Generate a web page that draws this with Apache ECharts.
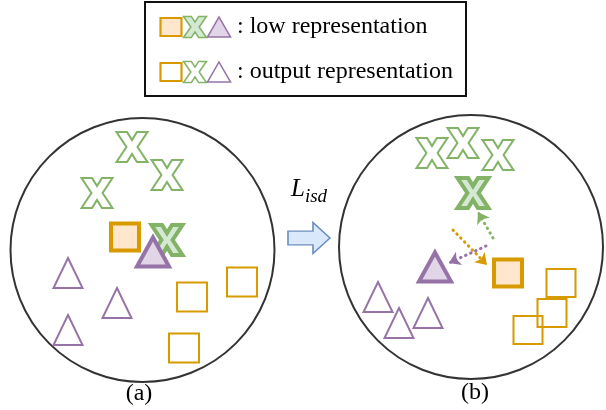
<!DOCTYPE html>
<html><head><meta charset="utf-8">
<script src="https://cdn.jsdelivr.net/npm/echarts@6/dist/echarts.min.js"></script>
<style>html,body{margin:0;padding:0;background:#fff}#c{width:606px;height:410px}</style>
</head><body><div id="c"></div>
<script>
// ---- data (diagram positions in the 606x410 canvas units) ----
const circleCenters = [[142.5, 250], [471, 247]];
const panelLabels = ['(a)', '(b)'];
const panelLabelPos = [[139, 394], [475, 393]];
const legendTexts = [': low representation', ': output representation'];
const legendRowsY = [27, 72];

// panel (a)
const aOutX = [[132, 147], [167, 175], [97, 193]];
const aLowX = [[167, 240]];
const aLowSq = [[125, 237]];
const aLowTri = [[153, 252]];
const aOutTri = [[68, 273], [117, 303], [68, 330]];
const aOutSq = [[192, 297], [242, 282], [184, 348]];
// panel (b)
const bOutX = [[432, 153], [463, 143], [498, 155]];
const bLowX = [[473, 193]];
const bLowSq = [[508, 273]];
const bLowTri = [[435, 267]];
const bOutTri = [[378, 297], [399, 323], [428, 313]];
const bOutSq = [[561, 283], [552, 313], [528, 330]];
// dotted pull arrows in (b): [from, to]
const greenArrow = [[[493, 238], [478, 212]]];
const orangeArrow = [[[453, 230], [487, 265]]];
const purpleArrow = [[[486, 246], [449, 263]]];
// transition arrow
const blockArrow = [[309, 238]];

const ORANGE = '#d79b00', ORANGE_F = '#ffe6cc';
const GREEN = '#82b366', GREEN_F = '#d5e8d4';
const PURPLE = '#9673a6', PURPLE_F = '#e1d5e7';
const X_PATH = 'path://M0,0 L34,0 L50,27 L66,0 L100,0 L68,50 L100,100 L66,100 L50,73 L34,100 L0,100 L32,50 Z';
const ARROW_PATH = 'path://M0,10 L25,10 L25,0 L42,18 L25,36 L25,26 L0,26 Z';

function sc(data, symbol, size, fill, stroke, bw, z) {
  return {type: 'scatter', data: data, symbol: symbol, symbolSize: size, symbolKeepAspect: true,
    itemStyle: {color: fill, borderColor: stroke, borderWidth: bw, opacity: 1}, z: z || 2,
    silent: true, animation: false};
}
function ln(data, color) {
  return {type: 'lines', coordinateSystem: 'cartesian2d', data: data.map(c => ({coords: c})),
    symbol: ['none', 'arrow'], symbolSize: 11,
    lineStyle: {color: color, width: 3, type: [0.5, 5], cap: 'round', opacity: 1}, z: 3, silent: true, animation: false};
}

const series = [
  {type: 'scatter', data: circleCenters, symbol: 'circle', symbolSize: 264,
   itemStyle: {color: 'transparent', borderColor: '#000', borderWidth: 2}, z: 1, silent: true, animation: false},
  sc(blockArrow, ARROW_PATH, [42, 36], '#dae8fc', '#6c8ebf', 1.5),
  // legend icons
  sc([[171, legendRowsY[0]]], 'rect', [21, 18], ORANGE_F, ORANGE, 2),
  sc([[195, legendRowsY[0]]], X_PATH, [23, 21], GREEN_F, GREEN, 1.5),
  sc([[219, legendRowsY[0]]], 'triangle', [23, 20], PURPLE_F, PURPLE, 1.5),
  sc([[171, legendRowsY[1]]], 'rect', [21, 18], '#fff', ORANGE, 2),
  sc([[195, legendRowsY[1]]], X_PATH, [23, 21], '#fff', GREEN, 1.5),
  sc([[219, legendRowsY[1]]], 'triangle', [23, 20], '#fff', PURPLE, 1.5),
  // panel a
  sc(aOutX, X_PATH, [31, 30], '#fff', GREEN, 2),
  sc(aOutTri, 'triangle', [29, 30], 'transparent', PURPLE, 2),
  sc(aOutSq, 'rect', [30, 29], 'transparent', ORANGE, 2),
  sc(aLowX, X_PATH, [31, 30], GREEN_F, GREEN, 4, 3),
  sc(aLowSq, 'rect', [28, 27], ORANGE_F, ORANGE, 4, 3),
  sc(aLowTri, 'triangle', [32, 29], PURPLE_F, PURPLE, 4, 4),
  // panel b
  sc(bOutX, X_PATH, [31, 30], '#fff', GREEN, 2),
  sc(bOutTri, 'triangle', [29, 30], 'transparent', PURPLE, 2),
  sc(bOutSq, 'rect', [29, 28], 'transparent', ORANGE, 2),
  sc(bLowX, X_PATH, [31, 30], GREEN_F, GREEN, 4, 3),
  sc(bLowSq, 'rect', [28, 27], ORANGE_F, ORANGE, 4, 3),
  sc(bLowTri, 'triangle', [32, 29], PURPLE_F, PURPLE, 4, 4),
  ln(greenArrow, GREEN), ln(orangeArrow, ORANGE), ln(purpleArrow, PURPLE)
];

const SERIF = '"Liberation Serif", "DejaVu Serif", serif';
const graphic = [
  {type: 'rect', shape: {x: 145, y: 2, width: 321, height: 94}, style: {fill: '#fff', stroke: '#111', lineWidth: 2}, z: 0},
  {type: 'text', x: 237, y: legendRowsY[0], style: {text: legendTexts[0], font: '24px ' + SERIF, fill: '#000', verticalAlign: 'middle'}},
  {type: 'text', x: 237, y: legendRowsY[1], style: {text: legendTexts[1], font: '24px ' + SERIF, fill: '#000', verticalAlign: 'middle'}},
  {type: 'text', x: panelLabelPos[0][0], y: panelLabelPos[0][1], style: {text: panelLabels[0], font: '24px ' + SERIF, fill: '#000', align: 'center', verticalAlign: 'middle'}},
  {type: 'text', x: panelLabelPos[1][0], y: panelLabelPos[1][1], style: {text: panelLabels[1], font: '24px ' + SERIF, fill: '#000', align: 'center', verticalAlign: 'middle'}},
  {type: 'text', x: 291, y: 202, style: {text: '{l|L}{s|isd}', verticalAlign: 'bottom',
    rich: {l: {font: 'italic 25px ' + SERIF, fill: '#000', verticalAlign: 'bottom'},
           s: {font: 'italic 19px ' + SERIF, fill: '#000', padding: [0, 0, -4, 0], verticalAlign: 'bottom'}}}}
];

const chart = echarts.init(document.getElementById('c'), null, {renderer: 'canvas'});
chart.setOption({
  animation: false,
  grid: {left: 0, right: 0, top: 0, bottom: 0},
  xAxis: {type: 'value', min: 0, max: 606, show: false},
  yAxis: {type: 'value', min: 0, max: 410, inverse: true, show: false},
  series: series,
  graphic: graphic
});
</script></body></html>
